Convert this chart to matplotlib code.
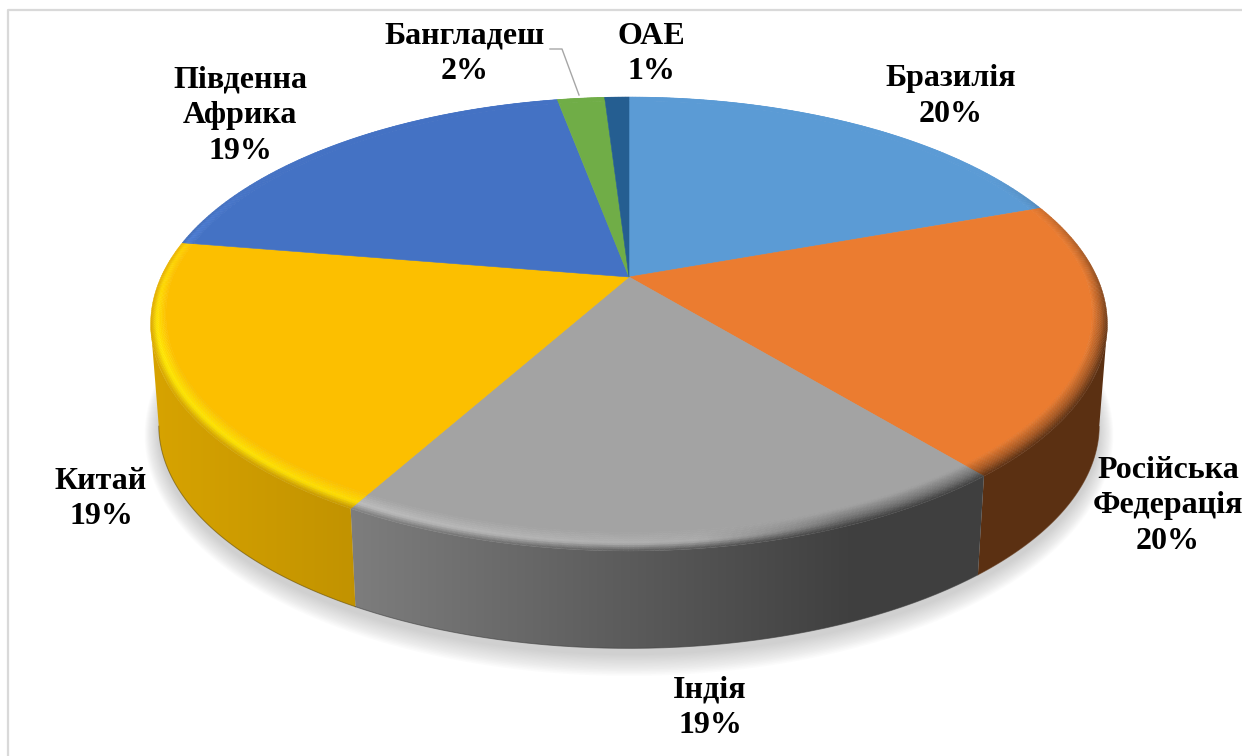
import numpy as np
import matplotlib
matplotlib.use('Agg')
import matplotlib.pyplot as plt
from matplotlib.collections import PolyCollection
from matplotlib.colors import to_rgb
from matplotlib.patches import Polygon

# slice sizes, printed labels are the rounded ones
names = ["Бразилія", "Російська\nФедерація", "Індія", "Китай", "Південна\nАфрика", "Бангладеш", "ОАЕ"]
values = [19.5, 19.5, 19.1, 19.5, 19.45, 1.95, 1.0]
percent_labels = ["20%", "20%", "19%", "19%", "19%", "2%", "1%"]
colors = ["#5B9BD5", "#EB7C30", "#A3A3A3", "#FCBF00", "#4472C4", "#70AD47", "#255E91"]

label_x = [951, 1168, 710, 101, 240, 465, 651]
label_y = [96.5, 506, 708, 499, 116, 54, 54]

# perspective of the pie, fitted in pixels
CX, CY = 629, 277
A, B, K = 468, 217.3, 0.207
DEPTH, SHRINK = 102, 0.983


def project(theta, r=1.0, bottom=False):
    X = r * np.sin(theta)
    Y = r * np.cos(theta)
    den = 1 + K * Y
    px = A * X / den
    py = -B * Y / den
    if bottom:
        return CX + SHRINK * px, CY + DEPTH + SHRINK * py
    return CX + px, CY + py


def side_shade(x):
    return np.interp(x, [160, 350, 850], [0.85, 0.77, 0.39])


fig = plt.figure(figsize=(12.42, 7.56), dpi=100)
ax = fig.add_axes([0, 0, 1, 1])

# chart frame, only left and top are in the crop
ax.plot([8, 8, 1242], [756, 10, 10], color="#D9D9D9", lw=1.6, zorder=0)

# soft shadow under the disc
all_t = np.linspace(0, 2 * np.pi, 361)
sx, sy = project(all_t, bottom=True)
for grow in np.linspace(1.0, 24, 14):
    ex = CX + (sx - CX) * (1 + grow * 0.6 / 480)
    ey = CY + DEPTH + 6 + (sy - CY - DEPTH) * (1 + grow / 300)
    ax.fill(ex, ey, color="#808080", alpha=0.028, lw=0, zorder=1)

edges = np.cumsum([0] + values) / sum(values) * 2 * np.pi
grad_x = np.arange(0, 1242, 2)

bevel_polys, bevel_cols = [], []
for i, col in enumerate(colors):
    face = np.array(to_rgb(col))
    n = max(3, int(np.degrees(edges[i + 1] - edges[i]) * 2))
    t = np.linspace(edges[i], edges[i + 1], n + 1)

    # outer wall, only the part facing the viewer, gradient clipped to its outline
    front = t[np.cos(t) <= -K]
    if len(front) > 1:
        top_x, top_y = project(front)
        bot_x, bot_y = project(front, bottom=True)
        outline = np.c_[np.r_[top_x, bot_x[::-1]], np.r_[top_y, bot_y[::-1]]]
        wall = Polygon(outline, closed=True, fc="none", ec="none", transform=ax.transData)
        grad = side_shade(grad_x)[None, :, None] * face[None, None, :]
        img = ax.imshow(grad, extent=(0, 1242, 756, 0), aspect="auto", zorder=3, interpolation="bilinear")
        ax.add_patch(wall)
        img.set_clip_path(wall)
        ax.plot(bot_x, bot_y, color=face * 0.4, lw=0.7, alpha=0.6, zorder=3.5)

    # flat top
    width = 0.025 + 0.03 * np.clip(-np.cos(t), 0, 1)
    tx, ty = project(t, 1 - width)
    ax.fill(np.r_[CX, tx], np.r_[CY, ty], color=col, lw=0.4, zorder=4)

    # rounded edge between top and wall
    steps = np.linspace(0, 1, 11)
    for a0, a1 in zip(t[:-1], t[1:]):
        am = (a0 + a1) / 2
        w = 0.025 + 0.03 * np.clip(-np.cos(am), 0, 1)
        xm, _ = project(am)
        vis = np.clip((0.5 - np.cos(am)) / 0.8, 0, 1)
        side = face * side_shade(xm)
        glow = np.interp(xm, [150, 700, 850], [1.0, 0.25, 0.0])
        dark = np.interp(xm, [700, 850], [0.0, 0.5])
        mid = np.clip(face * (1 + 0.22 * glow), 0, 1)
        mid = mid + (side - mid) * dark
        for s0, s1 in zip(steps[:-1], steps[1:]):
            sm = (s0 + s1) / 2
            if sm < 0.6:
                c = face + (mid - face) * sm / 0.6
            else:
                c = mid + (side - mid) * (sm - 0.6) / 0.4
            c = face + (c - face) * vis
            r0, r1 = 1 - w * (1 - s0), 1 - w * (1 - s1)
            p = [project(a0, r0), project(a1, r0), project(a1, r1), project(a0, r1)]
            bevel_polys.append(p)
            bevel_cols.append(c)

ax.add_collection(PolyCollection(bevel_polys, facecolors=bevel_cols, edgecolors=bevel_cols, linewidths=0.3, zorder=5))

# leader line for Бангладеш
ax.plot([550, 562, 579], [49, 49, 95], color="#A6A6A6", lw=1.0, zorder=6)

for name, pct, x, y in zip(names, percent_labels, label_x, label_y):
    ax.text(x, y, name + "\n" + pct, ha="center", va="center", multialignment="center",
            family="Liberation Serif", fontweight="bold", fontsize=23, color="black",
            linespacing=1.3, zorder=7)

ax.set_xlim(0, 1242)
ax.set_ylim(756, 0)
ax.axis("off")

fig.savefig("out.png", dpi=100)
